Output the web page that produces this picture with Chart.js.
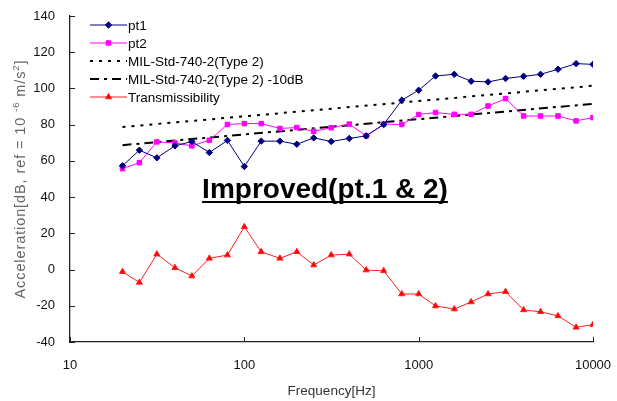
<!DOCTYPE html>
<html>
<head>
<meta charset="utf-8">
<script src="https://cdn.jsdelivr.net/npm/chart.js@4.4.1/dist/chart.umd.min.js"></script>
<style>
  html, body { margin: 0; padding: 0; background: #fff; }
  #wrap { width: 617px; height: 401px; }
</style>
</head>
<body>
<div id="wrap"><canvas id="chart" width="617" height="401"></canvas></div>
<script>
// 1/3 octave band centre frequencies (Hz)
const freqs = [20, 25, 31.5, 40, 50, 63, 80, 100, 125, 160, 200, 250, 315, 400, 500, 630,
               800, 1000, 1250, 1600, 2000, 2500, 3150, 4000, 5000, 6300, 8000, 10000];

// measured acceleration levels (dB)
const pt1 = [57.3, 65.9, 61.7, 68.3, 70.7, 64.6, 71.3, 56.9, 70.9, 70.9, 69.2, 72.7, 70.7, 72.4,
             73.8, 80.1, 93.5, 99.0, 106.9, 107.8, 104.0, 103.6, 105.5, 106.7, 107.8, 110.6, 113.7, 113.3];
const pt2 = [55.7, 59.0, 70.5, 69.9, 68.3, 71.4, 80.1, 80.6, 80.6, 77.9, 78.4, 76.3, 78.3, 80.3,
             73.8, 80.3, 80.1, 85.6, 86.7, 85.7, 85.7, 90.3, 94.4, 84.8, 84.8, 84.8, 82.1, 83.9];
const transmissibility = [-1.2, -7.1, 8.5, 1.0, -3.6, 6.2, 8.0, 23.6, 9.8, 6.2, 9.8, 2.5, 8.0, 8.5,
             -0.3, -0.7, -13.5, -13.5, -20.1, -21.8, -17.9, -13.5, -12.2, -22.3, -23.3, -25.6, -31.9, -30.4];

// MIL-Std-740-2 (Type 2) limit line and the same line lowered by 10 dB
const milFreqs = [20, 10000];
const milStd = [78.7, 101.5];
const milStd10 = [68.7, 91.5];

const seriesNames = ['pt1', 'pt2', 'MIL-Std-740-2(Type 2)', 'MIL-Std-740-2(Type 2) -10dB', 'Transmissibility'];
const xTicks = [10, 100, 1000, 10000];
const yMin = -40, yMax = 140, yStep = 20;
const noteText = 'Improved(pt.1 & 2)';

const toPoints = (xs, ys) => xs.map((x, i) => ({ x: x, y: ys[i] }));

const FONT = "'Liberation Sans', Arial, sans-serif";

// Legend drawn inside the plot, upper left
const insideLegend = {
    id: 'insideLegend',
    afterDraw(chart) {
        const ctx = chart.ctx;
        ctx.save();
        chart.data.datasets.forEach((ds, i) => {
            const y = 25 + 18 * i;
            ctx.strokeStyle = ds.borderColor;
            ctx.lineWidth = ds.borderWidth;
            ctx.setLineDash(ds.borderDash || []);
            ctx.beginPath();
            ctx.moveTo(90, y);
            ctx.lineTo(127, y);
            ctx.stroke();
            ctx.setLineDash([]);
            if (ds.pointRadius > 0) {
                ctx.fillStyle = ds.pointBackgroundColor;
                ctx.strokeStyle = ds.borderColor;
                ctx.lineWidth = 1;
                Chart.helpers.drawPoint(ctx, { pointStyle: ds.pointStyle, radius: ds.pointRadius, borderWidth: 1 }, 108.5, y);
            }
            ctx.fillStyle = '#000';
            ctx.font = '13.5px ' + FONT;
            ctx.textBaseline = 'middle';
            ctx.textAlign = 'left';
            ctx.fillText(seriesNames[i], 128, y + 1);
        });
        ctx.restore();
    }
};

// Underlined note in the middle of the plot
const noteLabel = {
    id: 'noteLabel',
    afterDraw(chart) {
        const ctx = chart.ctx;
        ctx.save();
        ctx.font = 'bold 28px ' + FONT;
        ctx.fillStyle = '#000';
        ctx.textAlign = 'center';
        ctx.textBaseline = 'alphabetic';
        const cx = 325, base = 197.5;
        ctx.fillText(noteText, cx, base);
        const w = ctx.measureText(noteText).width;
        ctx.fillRect(cx - w / 2, base + 3.5, w, 2);
        ctx.restore();
    }
};

// Vertical axis title with superscripted exponents
const yTitle = {
    id: 'yTitle',
    afterDraw(chart) {
        const ctx = chart.ctx;
        const parts = [
            ['Acceleration[dB, ref = 10 ', false],
            ['-6', true],
            [' m/s', false],
            ['2', true],
            [']', false]
        ];
        const big = '14.5px ' + FONT, small = '9.5px ' + FONT;
        ctx.save();
        ctx.letterSpacing = '0.9px';
        let total = 0;
        parts.forEach(p => { ctx.font = p[1] ? small : big; total += ctx.measureText(p[0]).width; });
        const a = chart.chartArea;
        ctx.translate(20, (a.top + a.bottom) / 2);
        ctx.rotate(-Math.PI / 2);
        ctx.fillStyle = '#666';
        ctx.textBaseline = 'alphabetic';
        ctx.textAlign = 'left';
        let x = -total / 2;
        parts.forEach(p => {
            ctx.font = p[1] ? small : big;
            ctx.fillText(p[0], x, p[1] ? -1 : 5);
            x += ctx.measureText(p[0]).width;
        });
        ctx.restore();
    }
};

// Tick marks pointing into the plot area
const innerTicks = {
    id: 'innerTicks',
    afterDraw(chart) {
        const ctx = chart.ctx;
        const xs = chart.scales.x, ys = chart.scales.y;
        const a = chart.chartArea;
        ctx.save();
        ctx.strokeStyle = '#222';
        ctx.lineWidth = 1;
        ctx.beginPath();
        for (let v = yMin; v <= yMax; v += yStep) {
            const py = Math.round(ys.getPixelForValue(v)) + 0.5;
            ctx.moveTo(a.left, py);
            ctx.lineTo(a.left + 5, py);
        }
        xTicks.forEach(v => {
            const px = Math.round(xs.getPixelForValue(v)) + 0.5;
            ctx.moveTo(px, a.bottom);
            ctx.lineTo(px, a.bottom - 5);
        });
        ctx.stroke();
        ctx.restore();
    }
};

const ctx = document.getElementById('chart').getContext('2d');
new Chart(ctx, {
    type: 'line',
    data: {
        datasets: [
            {
                label: seriesNames[0],
                data: toPoints(freqs, pt1),
                borderColor: '#000080',
                backgroundColor: '#000080',
                pointBackgroundColor: '#000080',
                borderWidth: 1,
                pointStyle: 'rectRot',
                pointRadius: 3.2,
                pointBorderWidth: 1
            },
            {
                label: seriesNames[1],
                data: toPoints(freqs, pt2),
                borderColor: '#ff00ff',
                backgroundColor: '#ff00ff',
                pointBackgroundColor: '#ff00ff',
                borderWidth: 1,
                pointStyle: 'rect',
                pointRadius: 3.2,
                pointBorderWidth: 1
            },
            {
                label: seriesNames[2],
                data: toPoints(milFreqs, milStd),
                borderColor: '#000',
                borderWidth: 2,
                borderDash: [3, 6],
                pointRadius: 0
            },
            {
                label: seriesNames[3],
                data: toPoints(milFreqs, milStd10),
                borderColor: '#000',
                borderWidth: 2,
                borderDash: [9, 5, 3, 5],
                pointRadius: 0
            },
            {
                label: seriesNames[4],
                data: toPoints(freqs, transmissibility),
                borderColor: '#ff2020',
                backgroundColor: '#ff0000',
                pointBackgroundColor: '#ff0000',
                borderWidth: 1,
                pointStyle: 'triangle',
                pointRadius: 3.5,
                pointBorderWidth: 1
            }
        ]
    },
    options: {
        responsive: false,
        animation: false,
        devicePixelRatio: 1,
        layout: { padding: { left: 0, right: 24, top: 16, bottom: 0 } },
        plugins: {
            legend: { display: false },
            tooltip: { enabled: false }
        },
        scales: {
            x: {
                type: 'logarithmic',
                min: 10,
                max: 10000,
                afterBuildTicks: scale => { scale.ticks = xTicks.map(v => ({ value: v })); },
                afterFit: scale => {
                    scale.height = 59;
                    scale.paddingLeft = 0;
                    scale.paddingRight = 0;
                },
                grid: { display: false, drawTicks: false },
                border: { display: true, color: '#222', width: 1.3 },
                ticks: {
                    callback: v => String(v),
                    font: { family: FONT, size: 13 },
                    color: '#111',
                    padding: 16,
                    maxRotation: 0,
                    autoSkip: false
                },
                title: {
                    display: true,
                    text: 'Frequency[Hz]',
                    font: { family: FONT, size: 13.5 },
                    color: '#333',
                    padding: { top: 0, bottom: 2 }
                }
            },
            y: {
                min: yMin,
                max: yMax,
                afterFit: scale => {
                    scale.width = 70;
                    scale.paddingTop = 0;
                    scale.paddingBottom = 0;
                },
                grid: { display: false, drawTicks: false },
                border: { display: true, color: '#222', width: 1.3 },
                ticks: {
                    stepSize: yStep,
                    font: { family: FONT, size: 13 },
                    color: '#111',
                    padding: 15
                },
                title: { display: false }
            }
        }
    },
    plugins: [insideLegend, noteLabel, yTitle, innerTicks]
});
</script>
</body>
</html>
